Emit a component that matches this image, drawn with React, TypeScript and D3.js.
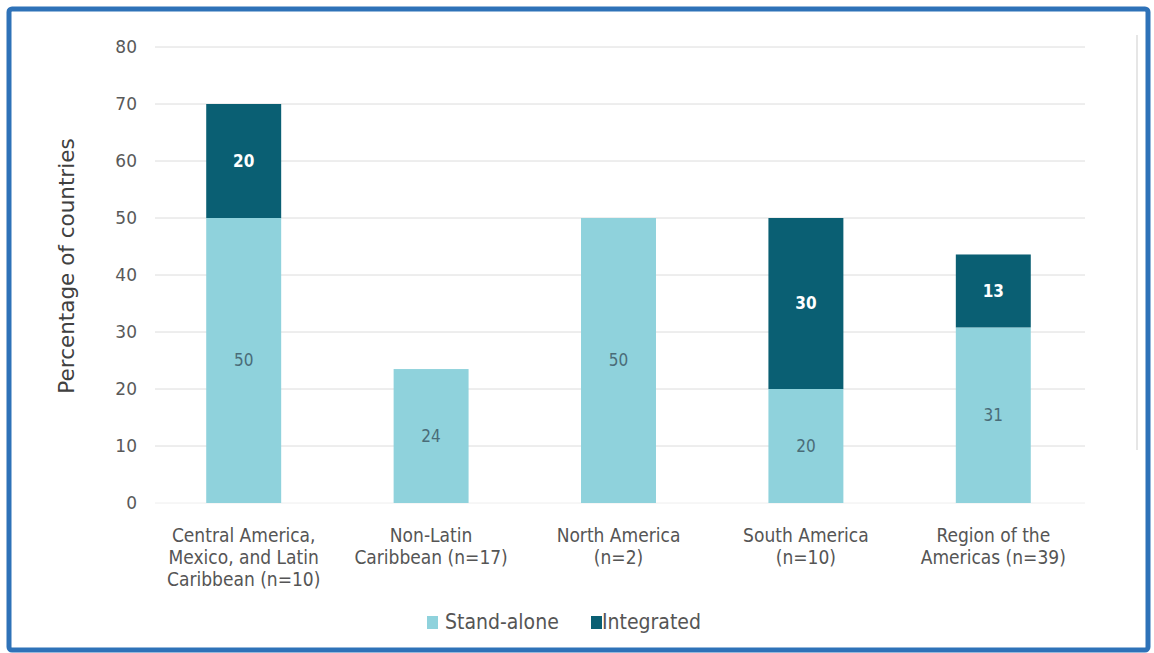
import React from "react";
import * as d3 from "d3";

const categories = [
  ["Central America,", "Mexico, and Latin", "Caribbean (n=10)"],
  ["Non-Latin", "Caribbean (n=17)"],
  ["North America", "(n=2)"],
  ["South America", "(n=10)"],
  ["Region of the", "Americas (n=39)"],
];
const standAlone = [50, 23.5, 50, 20, 30.8];
const integrated = [20, 0, 0, 30, 12.8];
const yTicks = [0, 10, 20, 30, 40, 50, 60, 70, 80];
const seriesNames = ["Stand-alone", "Integrated"];

const W = 1154;
const H = 653;
const LIGHT = "#8fd2dc";
const DARK = "#0a5f73";
const FONT = "'Liberation Sans Narrow', 'DejaVu Sans Condensed', 'Liberation Sans', sans-serif";
const FONT_WIDE = "'DejaVu Sans', 'Liberation Sans', sans-serif";

export default function App() {
  const x = d3
    .scaleBand<number>()
    .domain(categories.map((_, i) => i))
    .range([150, 1087])
    .paddingInner(0.6)
    .paddingOuter(0.3);
  const y = d3.scaleLinear().domain([0, 80]).range([503, 47]);
  const bw = x.bandwidth();

  const stack = d3
    .stack<number>()
    .keys(["s", "i"])
    .value((i, key) => (key === "s" ? standAlone[i] : integrated[i]));
  const series = stack(categories.map((_, i) => i));

  return (
    <div style={{ position: "absolute", left: 0, top: 0, width: W, height: H }}>
      <svg width={W} height={H} style={{ display: "block" }}>
        <rect x={0} y={0} width={W} height={H} fill="#ffffff" />
        <rect
          x={9}
          y={9}
          width={W - 15}
          height={H - 12}
          rx={3}
          fill="#ffffff"
          stroke="#2e72b8"
          strokeWidth={5}
        />
        <line x1={1137} x2={1137} y1={35} y2={450} stroke="#e6e6e6" strokeWidth={2} />
        {yTicks.map((t) => (
          <g key={t}>
            <line
              x1={155}
              x2={1085}
              y1={y(t)}
              y2={y(t)}
              stroke={t === 0 ? "#eeeeee" : "#dcdcdc"}
              strokeWidth={1}
            />
            <text
              x={137}
              y={y(t)}
              dy="0.35em"
              textAnchor="end"
              fontFamily={FONT_WIDE}
              fontSize={17}
              fill="#595959"
            >
              {t}
            </text>
          </g>
        ))}
        <text
          transform={`translate(74,266) rotate(-90)`}
          textAnchor="middle"
          fontFamily={FONT_WIDE}
          fontSize={21.5}
          fill="#404040"
        >
          Percentage of countries
        </text>
        {series.map((s, si) =>
          s.map((d, i) => {
            const v = si === 0 ? standAlone[i] : integrated[i];
            if (!v) return null;
            const y0 = y(d[0]);
            const y1 = y(d[1]);
            const cx = (x(i) as number) + bw / 2;
            return (
              <g key={`${si}-${i}`}>
                <rect
                  x={x(i)}
                  y={y1}
                  width={bw}
                  height={y0 - y1}
                  fill={si === 0 ? LIGHT : DARK}
                />
                <text
                  x={cx}
                  y={(y0 + y1) / 2}
                  dy="0.35em"
                  textAnchor="middle"
                  fontFamily={FONT}
                  fontSize={17}
                  fontWeight={si === 0 ? "normal" : "bold"}
                  fill={si === 0 ? "#4a6c78" : "#ffffff"}
                >
                  {Math.round(v)}
                </text>
              </g>
            );
          })
        )}
        {categories.map((lines, i) => (
          <text
            key={i}
            x={(x(i) as number) + bw / 2}
            y={535}
            textAnchor="middle"
            fontFamily={FONT}
            fontSize={19}
            fill="#555555"
          >
            {lines.map((l, li) => (
              <tspan key={li} x={(x(i) as number) + bw / 2} dy={li === 0 ? "0.35em" : 22}>
                {l}
              </tspan>
            ))}
          </text>
        ))}
        <g>
          <rect x={427} y={616} width={11} height={13} fill={LIGHT} />
          <text x={445} y={622} dy="0.35em" fontFamily={FONT} fontSize={21} fill="#555555">
            {seriesNames[0]}
          </text>
          <rect x={591} y={616} width={11} height={13} fill={DARK} />
          <text x={602} y={622} dy="0.35em" fontFamily={FONT} fontSize={21} fill="#555555">
            {seriesNames[1]}
          </text>
        </g>
      </svg>
    </div>
  );
}
